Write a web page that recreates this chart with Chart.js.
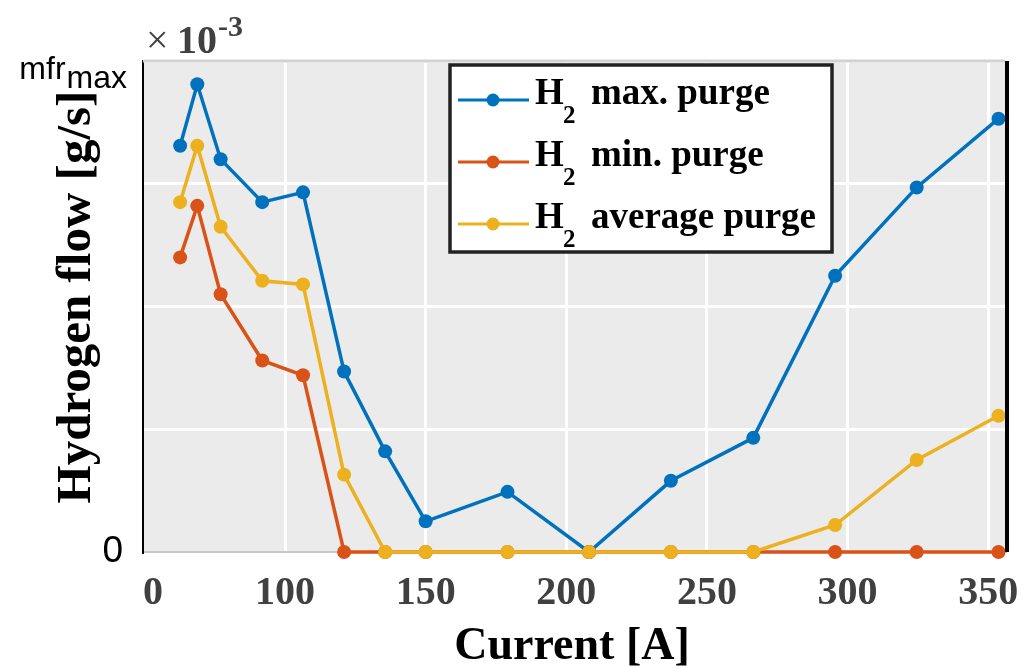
<!DOCTYPE html>
<html>
<head>
<meta charset="utf-8">
<title>Hydrogen flow vs current</title>
<script src="https://cdn.jsdelivr.net/npm/chart.js@4.4.0/dist/chart.umd.min.js"></script>
<style>
  html, body { margin: 0; padding: 0; background: #fff; }
  #wrap { width: 1028px; height: 669px; }
</style>
</head>
<body>
<div id="wrap"><canvas id="flowChart" width="1028" height="669"></canvas></div>
<script>
// Current [A] for each measured point
const corriente = [62.7, 68.8, 77.1, 91.9, 106.4, 121.0, 135.6, 150.0, 179.1, 208.1, 237.2, 266.5, 295.6, 324.6, 353.7];

// Hydrogen flow, in quarters of mfr_max (0 = none, 4 = mfr_max)
const purgaMax = [3.31, 3.81, 3.20, 2.85, 2.93, 1.47, 0.82, 0.25, 0.49, 0, 0.58, 0.93, 2.25, 2.97, 3.53];
const purgaMin = [2.40, 2.82, 2.10, 1.56, 1.44, 0, 0, 0, 0, 0, 0, 0, 0, 0, 0];
const purgaProm = [2.85, 3.31, 2.65, 2.21, 2.18, 0.63, 0, 0, 0, 0, 0, 0, 0.22, 0.75, 1.11];

// x ticks as printed on the figure (the "0" sits just right of the axis)
const xTickValues = [53.1, 100, 150, 200, 250, 300, 350];
const xTickLabels = ['0', '100', '150', '200', '250', '300', '350'];
const yTickValues = [0, 1, 2, 3, 4];

const series = [
  { label: 'max. purge', data: purgaMax, color: '#0072BD', order: 2 },
  { label: 'min. purge', data: purgaMin, color: '#D95319', order: 1 },
  { label: 'average purge', data: purgaProm, color: '#EDB120', order: 0 }
];

const SERIF = '"Liberation Serif", "Times New Roman", serif';
const SANS = '"Liberation Sans", Arial, sans-serif';

// fondo gris, marco, rótulos y leyenda estilo MATLAB
const decoPlugin = {
  id: 'deco',
  beforeDraw(chart) {
    const { ctx, chartArea: a } = chart;
    ctx.save();
    ctx.fillStyle = '#ebebeb';
    ctx.fillRect(a.left, a.top, a.right - a.left, a.bottom - a.top);
    ctx.restore();
  },
  afterDraw(chart) {
    const { ctx, chartArea: a } = chart;
    ctx.save();
    // top and right frame
    ctx.strokeStyle = '#d2d2d2';
    ctx.lineWidth = 3;
    ctx.beginPath();
    ctx.moveTo(a.left, a.top);
    ctx.lineTo(a.right, a.top);
    ctx.stroke();
    ctx.strokeStyle = '#000';
    ctx.lineWidth = 4;
    ctx.beginPath();
    ctx.moveTo(a.right + 2, a.top);
    ctx.lineTo(a.right + 2, a.bottom);
    ctx.stroke();

    // top y label: mfr_max
    ctx.fillStyle = '#000';
    ctx.textBaseline = 'alphabetic';
    ctx.textAlign = 'left';
    ctx.font = '32px ' + SANS;
    const wMfr = ctx.measureText('mfr').width;
    const wMax = ctx.measureText('max').width;
    const xStart = 127 - wMfr - wMax - 1;
    ctx.fillText('mfr', xStart, 79);
    ctx.fillText('max', xStart + wMfr + 1, 88);

    // exponent ×10^-3
    ctx.fillStyle = '#404040';
    ctx.font = '40px ' + SERIF;
    ctx.fillText('\u00d7', 146, 53);
    ctx.font = 'bold 40px ' + SERIF;
    ctx.fillText('10', 177, 53);
    ctx.font = 'bold 30px ' + SERIF;
    ctx.fillText('-3', 218, 36);

    // axis titles
    ctx.fillStyle = '#000';
    ctx.textAlign = 'center';
    ctx.font = 'bold 46px ' + SERIF;
    ctx.fillText('Current [A]', 572, 659);
    ctx.save();
    ctx.translate(90, 297);
    ctx.rotate(-Math.PI / 2);
    ctx.font = 'bold 49px ' + SERIF;
    ctx.fillText('Hydrogen flow [g/s]', 0, 0);
    ctx.restore();

    // legend
    const box = { x: 450, y: 65, w: 382, h: 187 };
    ctx.fillStyle = '#fff';
    ctx.fillRect(box.x, box.y, box.w, box.h);
    ctx.strokeStyle = '#222';
    ctx.lineWidth = 3.5;
    ctx.strokeRect(box.x, box.y, box.w, box.h);
    const baselines = [104, 166, 228];
    series.forEach((s, i) => {
      const yb = baselines[i];
      const yl = yb - 4;
      ctx.strokeStyle = s.color;
      ctx.lineWidth = 3;
      ctx.beginPath();
      ctx.moveTo(458, yl);
      ctx.lineTo(529, yl);
      ctx.stroke();
      ctx.fillStyle = s.color;
      ctx.beginPath();
      ctx.arc(493, yl, 6.5, 0, Math.PI * 2);
      ctx.fill();
      ctx.fillStyle = '#000';
      ctx.textAlign = 'left';
      ctx.font = 'bold 37px ' + SERIF;
      ctx.fillText('H', 535, yb);
      ctx.font = 'bold 25px ' + SERIF;
      ctx.fillText('2', 563, yb + 19);
      ctx.font = 'bold 37px ' + SERIF;
      ctx.fillText(s.label, 591, yb);
    });
    ctx.restore();
  }
};

const ctx = document.getElementById('flowChart').getContext('2d');
new Chart(ctx, {
  type: 'line',
  data: {
    datasets: series.map(s => ({
      label: s.label,
      data: corriente.map((x, i) => ({ x, y: s.data[i] })),
      borderColor: s.color,
      backgroundColor: s.color,
      borderWidth: 3.5,
      pointRadius: 7,
      pointBorderWidth: 0,
      tension: 0,
      clip: false,
      order: s.order
    }))
  },
  options: {
    responsive: false,
    animation: false,
    layout: { padding: { left: 0, right: 23, top: 61, bottom: 0 } },
    plugins: {
      legend: { display: false },
      title: { display: false },
      tooltip: { enabled: false }
    },
    scales: {
      x: {
        type: 'linear',
        min: 49.5,
        max: 356,
        afterBuildTicks: scale => { scale.ticks = xTickValues.map(v => ({ value: v })); },
        afterFit: scale => {
          scale.height = 117;
          scale.paddingLeft = 0;
          scale.paddingRight = 0;
        },
        ticks: {
          autoSkip: false,
          maxRotation: 0,
          padding: 18,
          color: '#404040',
          font: { family: SERIF, size: 40, weight: 'bold' },
          callback: (v, i) => xTickLabels[i]
        },
        grid: {
          drawTicks: false,
          lineWidth: 3,
          color: c => (c.tick && c.tick.value === xTickValues[0]) ? 'rgba(0,0,0,0)' : '#ffffff'
        },
        border: { display: true, color: '#c8c8c8', width: 2 }
      },
      y: {
        min: 0,
        max: 4,
        afterBuildTicks: scale => { scale.ticks = yTickValues.map(v => ({ value: v })); },
        afterFit: scale => {
          scale.width = 143;
          scale.paddingTop = 0;
          scale.paddingBottom = 0;
        },
        ticks: {
          padding: 20,
          color: '#000',
          font: { family: SANS, size: 37 },
          callback: v => (v === 0 ? '0' : '')
        },
        grid: { drawTicks: false, lineWidth: 3, color: '#ffffff' },
        border: { display: true, color: '#000', width: 2 }
      }
    }
  },
  plugins: [decoPlugin]
});
</script>
</body>
</html>
